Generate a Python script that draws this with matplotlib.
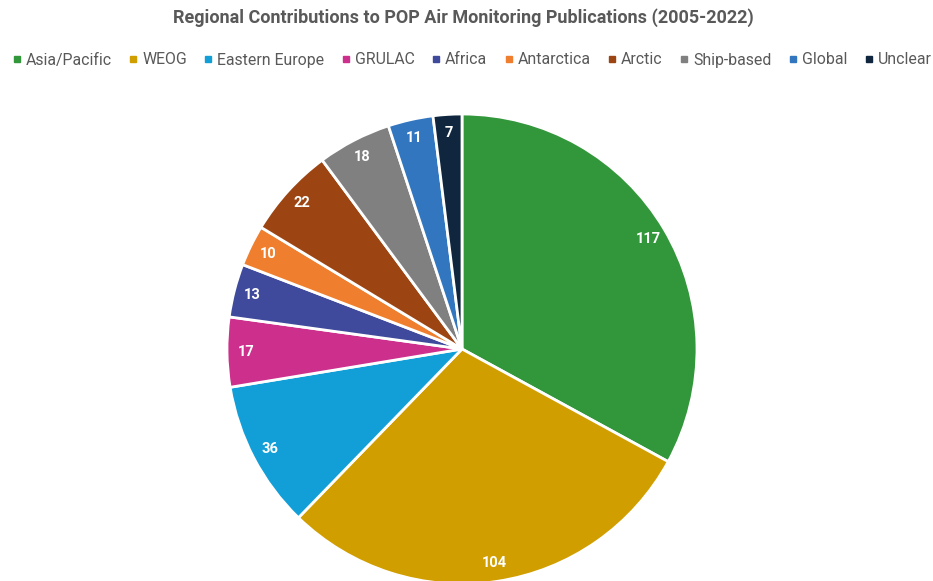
import matplotlib.pyplot as plt
from matplotlib.lines import Line2D

plt.rcParams['font.family'] = ['Roboto', 'DejaVu Sans']

regions = ['Asia/Pacific', 'WEOG', 'Eastern Europe', 'GRULAC', 'Africa',
           'Antarctica', 'Arctic', 'Ship-based', 'Global', 'Unclear']
counts = [117, 104, 36, 17, 13, 10, 22, 18, 11, 7]
colors = ['#32963a', '#d19e00', '#129fd8', '#cc2f8c', '#3f4a9c',
          '#ef7f2f', '#9c4512', '#808080', '#3176be', '#10263f']

W, H = 933, 581
fig = plt.figure(figsize=(W / 100, H / 100), dpi=100)
ax = fig.add_axes([0, 0, 1, 1])

# pie laid out in pixel units, starting at 12 o'clock and running clockwise
wedges, texts = ax.pie(counts, colors=colors, startangle=90, counterclock=False,
                       center=(462, 232), radius=235,
                       labels=[str(c) for c in counts], labeldistance=0.92,
                       wedgeprops=dict(edgecolor='white', linewidth=2))
for t in texts:
    t.set_color('white')
    t.set_fontsize(10.5)
    t.set_fontweight('bold')
    t.set_ha('center')
    t.set_va('center')

ax.set_xlim(0, W)
ax.set_ylim(0, H)
ax.set_aspect('equal')
ax.axis('off')

fig.text(0.497, 1 - 18 / H, 'Regional Contributions to POP Air Monitoring Publications (2005-2022)',
         ha='center', va='center', fontsize=13, fontweight='bold', color='#595959')

handles = [Line2D([], [], marker='s', linestyle='none', markersize=5,
                  markerfacecolor=c, markeredgecolor=c) for c in colors]
fig.legend(handles, regions, loc='center', bbox_to_anchor=(0.506, 1 - 60 / H),
           ncol=len(regions), frameon=False, fontsize=11.4, labelcolor='#595959',
           handlelength=0.5, handletextpad=0.3, columnspacing=1.12, borderpad=0)

fig.savefig('out.png', dpi=100)
